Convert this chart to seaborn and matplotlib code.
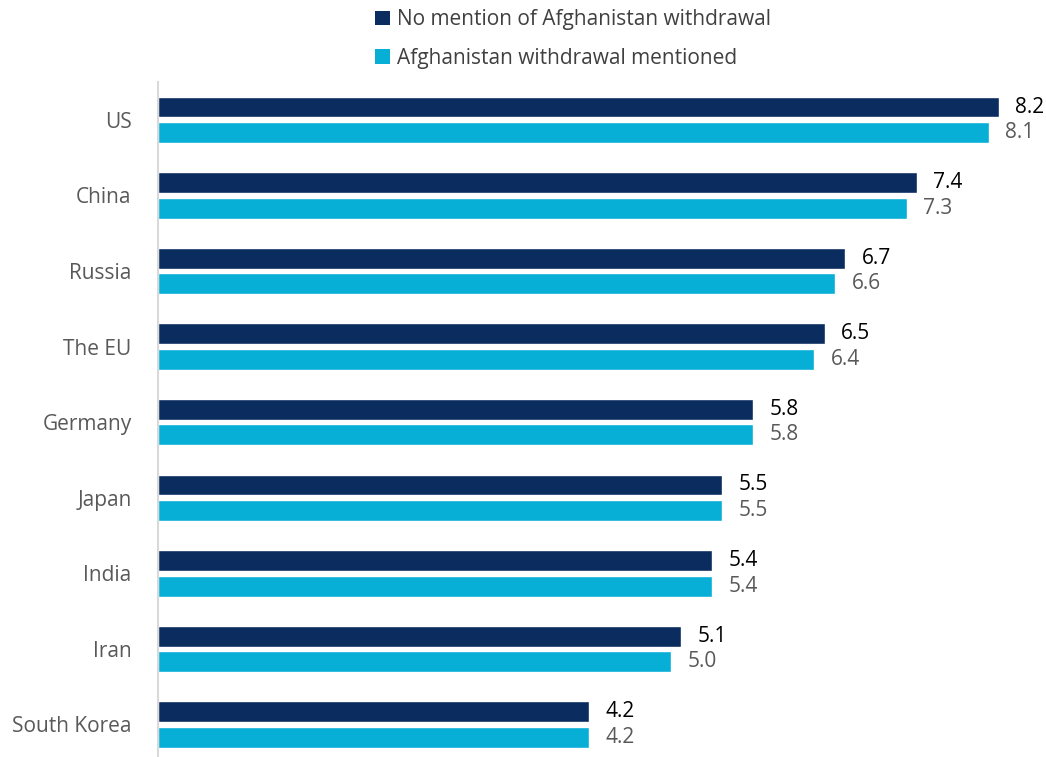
import matplotlib
matplotlib.use("Agg")
import matplotlib.pyplot as plt
from matplotlib.patches import Patch
import pandas as pd
import seaborn as sns

countries = ["US", "China", "Russia", "The EU", "Germany", "Japan", "India", "Iran", "South Korea"]
no_mention = [8.2, 7.4, 6.7, 6.5, 5.8, 5.5, 5.4, 5.1, 4.2]
mentioned = [8.1, 7.3, 6.6, 6.4, 5.8, 5.5, 5.4, 5.0, 4.2]
series_names = ["No mention of Afghanistan withdrawal", "Afghanistan withdrawal mentioned"]
series_colors = ["#0A2C5E", "#07AED6"]
label_colors = ["#000000", "#595959"]

df = pd.DataFrame({
    "country": countries * 2,
    "score": no_mention + mentioned,
    "series": [series_names[0]] * len(countries) + [series_names[1]] * len(countries),
})

sns.set_theme(style="white")
plt.rcParams["font.family"] = ["Open Sans", "DejaVu Sans"]

fig = plt.figure(figsize=(10.46, 7.57), dpi=100)
ax = fig.add_axes([158 / 1046, 0.0, 1 - 158 / 1046, 675 / 757])

sns.barplot(
    data=df, y="country", x="score", hue="series", orient="h",
    order=countries, hue_order=series_names, palette=series_colors,
    width=0.675, gap=0.18, saturation=1, ax=ax, legend=False,
)

for container, col in zip(ax.containers, label_colors):
    ax.bar_label(container, fmt="%.1f", padding=12, fontsize=15, color=col)

ax.set_xlim(0, 8.66)
ax.set_ylim(8.43, -0.5)
ax.set_xlabel("")
ax.set_ylabel("")
ax.set_xticks([])
ax.tick_params(axis="y", length=0, pad=19, labelsize=15, labelcolor="#595959")
for side in ["top", "right", "bottom"]:
    ax.spines[side].set_visible(False)
ax.spines["left"].set_color("#D9D9D9")
ax.spines["left"].set_linewidth(1.5)

handles = [Patch(facecolor=c, edgecolor="none") for c in series_colors]
fig.legend(
    handles, series_names, loc="upper left", bbox_to_anchor=(367 / 1046, 1 - 1 / 757),
    frameon=False, fontsize=15, labelcolor="#404040",
    handlelength=0.7, handleheight=0.7, handletextpad=0.35, labelspacing=0.85,
    borderaxespad=0.0,
)

fig.savefig("out.png", dpi=100)
